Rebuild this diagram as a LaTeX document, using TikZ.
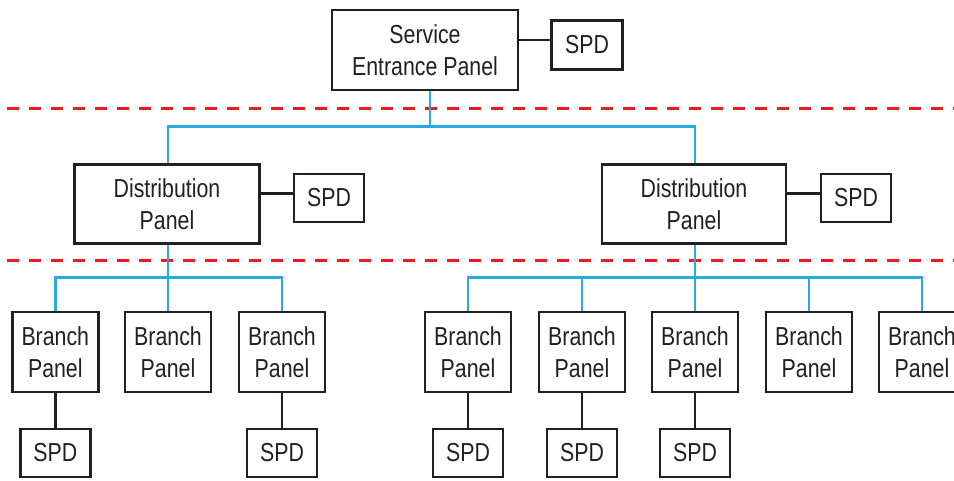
\documentclass[tikz,border=0pt]{standalone}
\usepackage{fontspec}
\setmainfont[FakeStretch=0.82]{Liberation Sans}
\definecolor{ink}{HTML}{231F20}
\definecolor{wire}{HTML}{29ABE2}
\definecolor{zone}{HTML}{ED1C24}
\begin{document}
\begin{tikzpicture}[x=1pt,y=-1pt,
  panel/.style={draw=ink,line width=2.6pt,text=ink,align=center,inner sep=0pt,
    font=\fontsize{26}{32}\selectfont},
  spdbox/.style={panel,minimum width=70pt,minimum height=48pt},
  branchbox/.style={panel,minimum width=86pt,minimum height=80pt},
  distbox/.style={panel,minimum width=185pt,minimum height=79pt},
  blk/.style={draw=ink,line width=2.6pt},
  bl/.style={draw=wire,line width=2.6pt},
  zoneline/.style={draw=zone,line width=3pt,dash pattern=on 11.3pt off 10.7pt}]
\useasboundingbox (0,0) rectangle (954,481);
% zone lines
\coordinate (zA1) at (7.3,108.7);
\coordinate (zA2) at (960,108.7);
\coordinate (zB1) at (7.3,261);
\coordinate (zB2) at (960,261);
\draw[zoneline] (zA1) -- (zA2);
\draw[zoneline] (zB1) -- (zB2);
% top
\node[panel,minimum width=186pt,minimum height=80pt] (sep) at (425,50) {Service\\Entrance Panel};
\node[spdbox,minimum width=71pt,minimum height=49pt] (spd0) at (587,45) {SPD};
% distribution
\node[distbox] (d1) at (167,204) {Distribution\\Panel};
\node[spdbox] (sd1) at (329,198) {SPD};
\node[distbox,minimum width=184pt] (d2) at (694,204) {Distribution\\Panel};
\node[spdbox] (sd2) at (856,198) {SPD};
% branches
\foreach \n/\x in {b1/55.3,b2/168,b3/282,b4/468,b5/582,b6/695,b7/809,b8/922}
  \node[branchbox] (\n) at (\x,352) {Branch\\Panel};
\foreach \n/\x in {s1/55.3,s3/282,s4/468,s5/582,s6/695}
  \node[spdbox] (\n) at (\x,453) {SPD};
% black connectors
\draw[blk] ([yshift=10pt]sep.east) -- ([yshift=10pt]sep.east -| spd0.west);
\draw[blk] ([yshift=10.5pt]d1.east) -- ([yshift=10.5pt]d1.east -| sd1.west);
\draw[blk] ([yshift=10.5pt]d2.east) -- ([yshift=10.5pt]d2.east -| sd2.west);
\foreach \b/\s in {b1/s1,b3/s3,b4/s4,b5/s5,b6/s6}
  \draw[blk] (\b.south) -- (\s.north);
% blue tree
\coordinate (j0) at (430,126.7);
\coordinate (j1) at (168,277.3);
\coordinate (j2) at (695,277.3);
\draw[bl] (j0 |- sep.south) -- (j0);
\draw[bl] (d1.north -| j1) |- (j0) -| (d2.north -| j2);
\draw[bl] (j1 |- d1.south) -- (j1);
\draw[bl] (j2 |- d2.south) -- (j2);
\draw[bl] (b1.north) |- (j1) -| (b3.north);
\draw[bl] (j1) -- (b2.north);
\draw[bl] (b4.north) |- (j2) -| (b8.north);
\foreach \b in {b5,b6,b7}
  \draw[bl] (\b.north) -- (\b.north |- j2);
\end{tikzpicture}
\end{document}
